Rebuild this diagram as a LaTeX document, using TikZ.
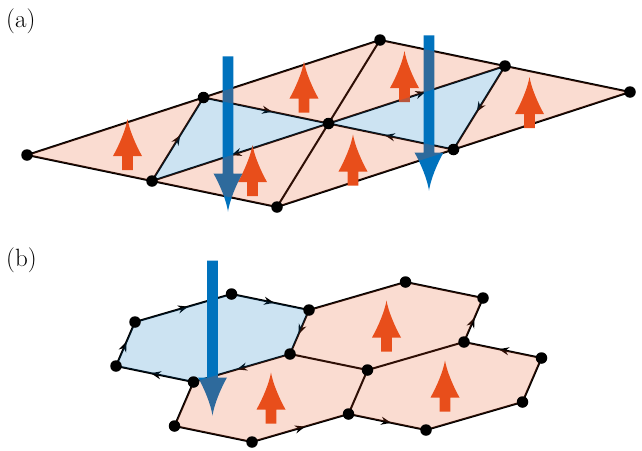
\documentclass[tikz,border=0pt]{standalone}
\usetikzlibrary{arrows.meta,decorations.markings}
\definecolor{sporange}{RGB}{232,78,27}
\definecolor{spblue}{RGB}{0,114,189}
\tikzset{
  latline/.style={line width=2pt, draw=black, line cap=round, line join=round},
  midarrow/.style={postaction={decorate},
    decoration={markings, mark=at position 0.55 with {\arrow{Stealth[length=10pt,width=8pt]}}}},
  dotnode/.style={circle, fill=black, inner sep=0pt, minimum size=11.5pt},
  pinkfill/.style={fill=sporange, fill opacity=0.2},
  bluefill/.style={fill=spblue, fill opacity=0.2},
  lbl/.style={anchor=base west, inner sep=0pt, font=\fontsize{25}{30}\selectfont},
}
\newcommand{\spinup}[1]{%
  \fill[sporange, shift={(#1)}] (0,-25.5) .. controls (1.8,-15) and (8,0) .. (14.5,11.5)
    -- (5.3,11.5) -- (5.3,25.5) -- (-5.3,25.5) -- (-5.3,11.5) -- (-14.5,11.5)
    .. controls (-8,0) and (-1.8,-15) .. cycle;}
\newcommand{\spindown}[1]{%
  \fill[spblue, shift={(#1)}] (-5.3,-77.5) -- (5.3,-77.5) -- (5.3,39.5) -- (14.5,39.5)
    .. controls (8,51) and (1.8,66) .. (0,77.5) .. controls (-1.8,66) and (-8,51) .. (-14.5,39.5)
    -- (-5.3,39.5) -- cycle;}
\begin{document}
\begin{tikzpicture}[x=1pt,y=-1pt]
\useasboundingbox (0,0) rectangle (642,450);
% ---------- (a) triangular lattice ----------
\coordinate (p00) at (27,155);
\coordinate (p10) at (152,181);
\coordinate (p20) at (277,207);
\coordinate (p11) at (203.5,97.5);
\coordinate (p21) at (328.5,123.5);
\coordinate (p31) at (453.5,149.5);
\coordinate (p22) at (380,40);
\coordinate (p32) at (505,66);
\coordinate (p42) at (630,92);
% ---------- (b) honeycomb ----------
\coordinate (q1) at (135,322);
\coordinate (q2) at (231.5,294);
\coordinate (q3) at (309,310);
\coordinate (q4) at (290,354);
\coordinate (q5) at (193.5,382);
\coordinate (q6) at (116,366);
\coordinate (q7) at (405.5,282);
\coordinate (q8) at (483,298);
\coordinate (q9) at (464,342);
\coordinate (q10) at (367.5,370);
\coordinate (q11) at (348.5,414);
\coordinate (q12) at (252,442);
\coordinate (q13) at (174.5,426);
\coordinate (q14) at (541.5,358);
\coordinate (q15) at (522.5,402);
\coordinate (q16) at (426,430);
% centres
\coordinate (t1) at (barycentric cs:p00=1,p10=1,p11=1);
\coordinate (t2) at (barycentric cs:p10=1,p11=1,p21=1);
\coordinate (t3) at (barycentric cs:p10=1,p20=1,p21=1);
\coordinate (t4) at (barycentric cs:p11=1,p21=1,p22=1);
\coordinate (t5) at (barycentric cs:p20=1,p21=1,p31=1);
\coordinate (t6) at (barycentric cs:p21=1,p22=1,p32=1);
\coordinate (t7) at (barycentric cs:p21=1,p31=1,p32=1);
\coordinate (t8) at (barycentric cs:p31=1,p32=1,p42=1);
\coordinate (h1) at (212.5,338);
\coordinate (h2) at (386.5,326);
\coordinate (h3) at (271,398);
\coordinate (h4) at (445,386);
% ---------- edges ----------
\draw[latline] (p00) -- (p10) -- (p20) -- (p31) -- (p42) -- (p32) -- (p22) -- (p11) -- cycle;
\draw[latline] (p20) -- (p21) -- (p22);
\draw[latline, midarrow] (p10) -- (p11);
\draw[latline, midarrow] (p11) -- (p21);
\draw[latline, midarrow] (p21) -- (p10);
\draw[latline, midarrow] (p21) -- (p32);
\draw[latline, midarrow] (p32) -- (p31);
\draw[latline, midarrow] (p31) -- (p21);
% hex edges
\draw[latline, midarrow] (q1) -- (q2);
\draw[latline, midarrow] (q2) -- (q3);
\draw[latline, midarrow] (q3) -- (q4);
\draw[latline, midarrow] (q4) -- (q5);
\draw[latline, midarrow] (q5) -- (q6);
\draw[latline, midarrow] (q6) -- (q1);
\draw[latline] (q3) -- (q7) -- (q8);
\draw[latline, midarrow] (q9) -- (q8);
\draw[latline] (q9) -- (q10) -- (q4);
\draw[latline] (q10) -- (q11);
\draw[latline, midarrow] (q12) -- (q11);
\draw[latline] (q12) -- (q13) -- (q5);
\draw[latline, midarrow] (q14) -- (q9);
\draw[latline] (q14) -- (q15) -- (q16);
\draw[latline, midarrow] (q11) -- (q16);
% ---------- spins ----------
\spinup{t1}
\spinup{t3}
\spinup{t4}
\spinup{t5}
\spinup{t6}
\spinup{t8}
\spindown{t2}
\spindown{t7}
\spinup{h2}
\spinup{h3}
\spinup{h4}
\spindown{h1}
% ---------- translucent plaquettes ----------
\fill[pinkfill, even odd rule] (p00) -- (p10) -- (p20) -- (p31) -- (p42) -- (p32) -- (p22) -- (p11) -- cycle
  (p10) -- (p11) -- (p21) -- cycle
  (p21) -- (p31) -- (p32) -- cycle;
\fill[bluefill] (p10) -- (p11) -- (p21) -- cycle;
\fill[bluefill] (p21) -- (p31) -- (p32) -- cycle;
\fill[pinkfill] (q3) -- (q7) -- (q8) -- (q9) -- (q14) -- (q15) -- (q16) -- (q11) -- (q12) -- (q13) -- (q5) -- (q4) -- cycle;
\fill[bluefill] (q1) -- (q2) -- (q3) -- (q4) -- (q5) -- (q6) -- cycle;
% ---------- vertices ----------
\foreach \v in {p00,p10,p20,p11,p21,p31,p22,p32,p42}
  \node[dotnode] (d\v) at (\v) {};
\foreach \v in {q1,q2,q3,q4,q5,q6,q7,q8,q9,q10,q11,q12,q13,q14,q15,q16}
  \node[dotnode] (d\v) at (\v) {};
% ---------- labels ----------
\node[lbl] (la) at (6,27) {(a)};
\node[lbl] (lb) at (6,266) {(b)};
\end{tikzpicture}
\end{document}
